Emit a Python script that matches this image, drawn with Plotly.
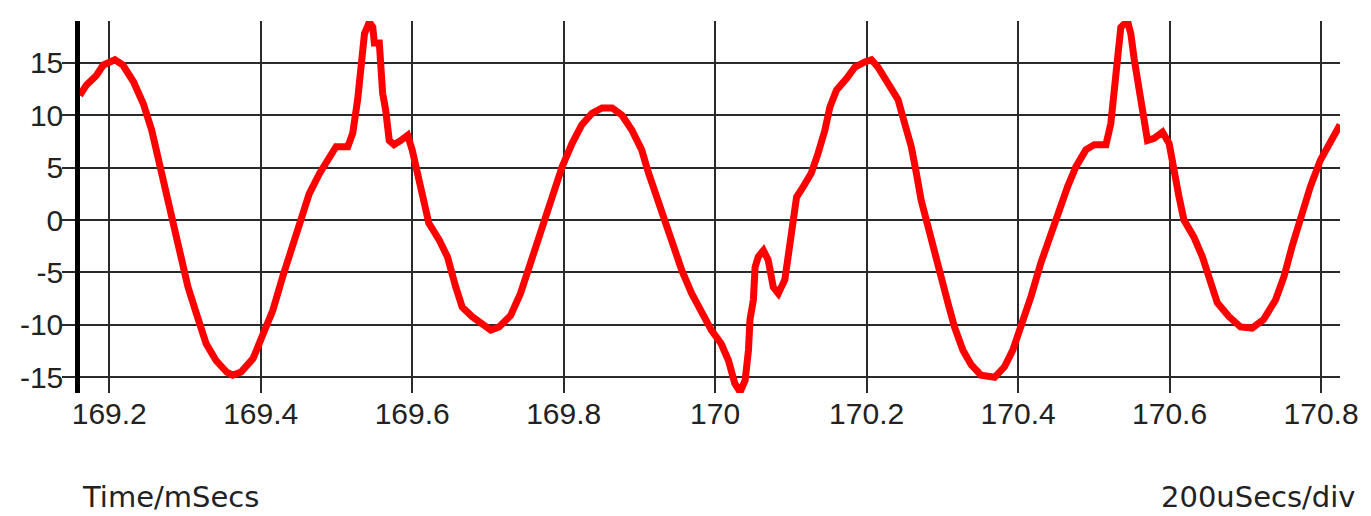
import plotly.graph_objects as go

# Waveform samples (time in ms, amplitude)
time_ms = [
    169.161, 169.170, 169.183, 169.192, 169.2075, 169.218, 169.232, 169.245, 169.256, 169.265,
    169.276, 169.287, 169.295, 169.304, 169.315, 169.328, 169.341, 169.355, 169.363, 169.374,
    169.390, 169.403, 169.416, 169.429, 169.442, 169.453, 169.464, 169.478, 169.491, 169.4995,
    169.515, 169.5215, 169.528, 169.532, 169.537, 169.5435, 169.548, 169.550, 169.5566, 169.561,
    169.565, 169.5697, 169.576, 169.585, 169.594, 169.600, 169.607, 169.614, 169.622, 169.6356,
    169.6465, 169.6576, 169.666, 169.679, 169.6926, 169.7037, 169.7146, 169.730, 169.743, 169.7564,
    169.767, 169.776, 169.785, 169.798, 169.811, 169.824, 169.8375, 169.8507, 169.864, 169.877,
    169.890, 169.903, 169.912, 169.923, 169.934, 169.945, 169.956, 169.969, 169.982, 169.995,
    170.008, 170.0176, 170.026, 170.033, 170.0396, 170.044, 170.046, 170.0505, 170.0527, 170.057,
    170.0637, 170.070, 170.0768, 170.0834, 170.092, 170.0988, 170.103, 170.1075, 170.1164, 170.127,
    170.136, 170.145, 170.1515, 170.1602, 170.1734, 170.1845, 170.1976, 170.2063, 170.215, 170.228,
    170.2415, 170.2503, 170.259, 170.2656, 170.272, 170.281, 170.2898, 170.2985, 170.3073, 170.316,
    170.327, 170.338, 170.351, 170.369, 170.382, 170.393, 170.404, 170.417, 170.430, 170.4434,
    170.4545, 170.4654, 170.4764, 170.4895, 170.5006, 170.516, 170.5224, 170.527, 170.5312, 170.5356,
    170.5444, 170.5488, 170.5532, 170.560, 170.5664, 170.5708, 170.5796, 170.5906, 170.5994, 170.606,
    170.6125, 170.619, 170.632, 170.6433, 170.652, 170.663, 170.6784, 170.6937, 170.709, 170.724,
    170.740, 170.751, 170.7618, 170.7727, 170.7859, 170.799, 170.8122, 170.825,
]
amplitude = [
    11.9, 12.9, 13.8, 14.8, 15.3, 14.8, 13.2, 11.1, 8.6, 5.7,
    2.2, -1.0, -3.8, -6.4, -8.9, -11.8, -13.4, -14.5, -14.8, -14.5,
    -13.2, -11.1, -8.6, -5.4, -2.5, 0.0, 2.5, 4.5, 6.2, 7.0,
    7.0, 8.3, 11.5, 14.0, 17.8, 18.9, 18.4, 16.9, 16.9, 12.1,
    10.5, 7.6, 7.2, 7.6, 8.1, 6.7, 4.5, 1.6, -0.3, -1.9,
    -3.5, -6.4, -8.3, -9.2, -10.0, -10.5, -10.2, -9.1, -7.0, -4.1,
    -1.9, 0.3, 2.2, 5.1, 7.3, 9.1, 10.2, 10.7, 10.7, 10.0,
    8.6, 6.7, 4.5, 2.2, 0.0, -2.5, -4.8, -7.0, -8.9, -10.5,
    -11.8, -13.4, -15.6, -16.4, -15.3, -12.4, -9.5, -7.6, -4.5, -3.5,
    -2.9, -3.8, -6.4, -7.0, -5.7, -1.9, 0.6, 2.2, 3.2, 4.5,
    6.4, 8.6, 10.8, 12.4, 13.5, 14.6, 15.1, 15.3, 14.6, 13.2,
    11.5, 9.2, 7.0, 4.5, 1.9, -0.6, -3.2, -5.7, -7.9, -10.2,
    -12.4, -13.8, -14.8, -15.0, -14.0, -12.4, -10.2, -7.3, -4.1, -1.3,
    1.3, 3.2, 5.1, 6.7, 7.2, 7.2, 9.2, 13.0, 15.3, 18.4,
    19.0, 17.8, 15.4, 12.1, 9.5, 7.6, 7.8, 8.4, 7.3, 4.5,
    2.2, 0.0, -1.6, -3.5, -5.7, -7.9, -9.2, -10.2, -10.3, -9.5,
    -7.6, -5.4, -2.5, 0.3, 3.2, 5.7, 7.6, 9.1,
]

x_ticks = [169.2, 169.4, 169.6, 169.8, 170.0, 170.2, 170.4, 170.6, 170.8]
x_tick_text = ["169.2", "169.4", "169.6", "169.8", "170", "170.2", "170.4", "170.6", "170.8"]
y_ticks = [-15, -10, -5, 0, 5, 10, 15]
y_tick_text = ["-15", "-10", "-5", "0", "5", "10", "15"]

x_label = "Time/mSecs"
scale_label = "200uSecs/div"

fig = go.Figure()
fig.add_trace(go.Scatter(
    x=time_ms, y=amplitude, mode="lines",
    line=dict(color="#ff0000", width=7),
    hoverinfo="x+y", showlegend=False, cliponaxis=True,
))

grid_col = "#2a2a2a"
tick_font = dict(family="Liberation Sans, Arial, sans-serif", size=30, color="#222222")
note_font = dict(family="DejaVu Sans, sans-serif", size=29, color="#222222")

fig.update_layout(
    width=1371, height=516,
    margin=dict(l=80, r=28, t=21, b=123),
    paper_bgcolor="white", plot_bgcolor="white",
    xaxis=dict(
        range=[169.1614, 170.825],
        tickvals=x_ticks, ticktext=x_tick_text,
        showgrid=True, gridcolor=grid_col, gridwidth=1.8,
        zeroline=False, showline=False, ticks="",
        tickfont=tick_font,
    ),
    yaxis=dict(
        range=[-16.5, 19.0],
        tickvals=y_ticks, ticktext=y_tick_text,
        showgrid=True, gridcolor=grid_col, gridwidth=1.8,
        zeroline=False, showline=True, linecolor="black", linewidth=4.5,
        ticks="outside", ticklen=13, tickcolor=grid_col, tickwidth=1.8,
        ticklabelstandoff=-7,
        tickfont=tick_font,
    ),
    annotations=[
        dict(text=x_label, xref="paper", yref="paper", x=0.0, y=-0.28,
             xanchor="left", yanchor="middle", showarrow=False, font=note_font),
        dict(text=scale_label, xref="paper", yref="paper", x=1.0135, y=-0.28,
             xanchor="right", yanchor="middle", showarrow=False, font=note_font),
    ],
)

fig.write_html("out.html", config={"displayModeBar": False},
               post_script="document.body.style.margin='0';")
